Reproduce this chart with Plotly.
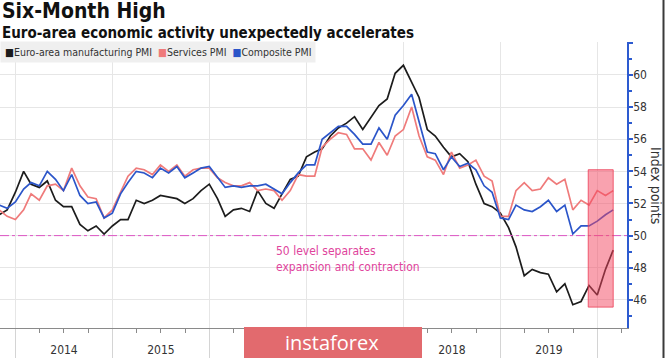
import pandas as pd
import plotly.graph_objects as go

# ---------------- data ----------------
months = pd.date_range("2013-10-31", "2020-02-29", freq="ME")

manufacturing = [
    51.3, 51.6, 52.7,
    54.0, 53.2, 53.0, 53.4, 52.2, 51.8, 51.8, 50.7, 50.3, 50.6, 50.1, 50.6,
    51.0, 51.0, 52.2, 52.0, 52.2, 52.5, 52.4, 52.3, 52.0, 52.3, 52.8, 53.2,
    52.3, 51.2, 51.6, 51.7, 51.5, 52.8, 52.0, 51.7, 52.6, 53.5, 53.7, 54.9,
    55.2, 55.4, 56.2, 56.7, 57.0, 57.4, 56.6, 57.4, 58.1, 58.5, 60.1, 60.6,
    59.6, 58.6, 56.6, 56.2, 55.5, 54.9, 55.1, 54.6, 53.2, 52.0, 51.8, 51.4,
    50.5, 49.3, 47.5, 47.9, 47.7, 47.6, 46.5, 47.0, 45.7, 45.9, 46.9, 46.3,
    47.9, 49.1,
]
services = [
    51.6, 51.2, 51.0,
    51.6, 52.6, 52.2, 53.1, 53.2, 52.8, 54.2, 53.1, 52.4, 52.3, 51.1, 51.6,
    52.7, 53.7, 54.2, 54.1, 53.8, 54.4, 54.0, 54.4, 53.7, 54.1, 54.2, 54.2,
    53.6, 53.3, 53.1, 53.1, 53.3, 52.8, 52.9, 52.8, 52.2, 52.8, 53.8, 53.7,
    53.7, 55.5, 56.0, 56.4, 56.3, 55.4, 55.4, 54.7, 55.8, 55.0, 56.2, 56.6,
    58.0, 56.2, 54.9, 54.7, 53.8, 55.2, 54.2, 54.4, 54.7, 53.7, 53.4, 51.2,
    51.2, 52.8, 53.3, 52.8, 52.9, 53.6, 53.2, 53.5, 51.6, 52.2, 51.9, 52.8,
    52.5, 52.8,
]
composite = [
    51.9, 51.7, 52.1,
    52.9, 53.3, 53.1, 54.0, 53.5, 52.8, 53.8, 52.5, 52.0, 52.1, 51.1, 51.4,
    52.6, 53.3, 54.0, 53.9, 53.6, 54.2, 53.9, 54.3, 53.6, 53.9, 54.2, 54.3,
    53.6, 53.0, 53.1, 53.0, 53.1, 53.1, 53.2, 52.9, 52.6, 53.3, 53.9, 54.4,
    54.4, 56.0, 56.4, 56.8, 56.8, 56.3, 55.7, 55.7, 56.7, 56.0, 57.5, 58.1,
    58.8, 57.1, 55.2, 55.1, 54.1, 54.9, 54.3, 54.5, 54.1, 53.1, 52.7, 51.1,
    51.0, 51.9, 51.6, 51.5, 51.8, 52.2, 51.5, 51.9, 50.1, 50.6, 50.6, 50.9,
    51.3, 51.6,
]

series_names = ["Euro-area manufacturing PMI", "Services PMI", "Composite PMI"]
year_labels = ["2014", "2015", "2016", "2017", "2018", "2019"]
year_label_dates = ["2014-07-02", "2015-07-02", "2016-07-02", "2017-07-02",
                    "2018-07-02", "2019-07-02"]
y_tickvals = [46, 48, 50, 52, 54, 56, 58, 60, 62]
y_ticktext = ["46", "48", "50", "52", "54", "56", "58", "60", ""]
y_minor_vals = [45, 47, 49, 51, 53, 55, 57, 59, 61]
threshold = 50
highlight_x = ["2019-11-27", "2020-02-29"]
highlight_y = [45.55, 54.1]

title_text = "Six-Month High"
subtitle_text = "Euro-area economic activity unexpectedly accelerates"

# ---------------- styles ----------------
FONT = "DejaVu Sans Condensed, DejaVu Sans, sans-serif"
C_MAN = "#1c1c1c"
C_SER = "#ef7b7b"
C_COM = "#2b55c9"
C_AXIS = "#2d5bd0"
C_GRID = "#e6e6e6"
C_PINK = "#e0449c"

fig = go.Figure()
for name, vals, col in zip(series_names, [manufacturing, services, composite],
                           [C_MAN, C_SER, C_COM]):
    fig.add_trace(go.Scatter(x=months, y=vals, mode="lines", name=name,
                             line=dict(color=col, width=1.7), showlegend=False))

# helper trace for the year-label axis
fig.add_trace(go.Scatter(x=year_label_dates, y=[None] * len(year_label_dates),
                         xaxis="x2", mode="lines", showlegend=False,
                         hoverinfo="skip"))

x_range = ["2013-11-03", "2020-04-21"]

fig.update_layout(
    width=665, height=358,
    margin=dict(l=0, r=38, t=42, b=30),
    paper_bgcolor="white", plot_bgcolor="white",
    font=dict(family=FONT, color="#333"),
    showlegend=False,
    xaxis=dict(
        type="date", range=x_range,
        tick0="2014-01-01", dtick="M12",
        showgrid=True, gridcolor=C_GRID, gridwidth=1,
        showline=True, linecolor="#8a8a8a", linewidth=1,
        ticks="outside", ticklen=30, tickcolor="#d4d4d4", tickwidth=1,
        showticklabels=False,
        minor=dict(tick0="2014-01-01", dtick="M3", ticks="outside",
                   ticklen=4, tickcolor="#8a8a8a", showgrid=False),
        zeroline=False,
    ),
    xaxis2=dict(
        type="date", range=x_range, overlaying="x", anchor="y", side="bottom",
        tickmode="array", tickvals=year_label_dates, ticktext=year_labels,
        ticks="", showgrid=False, showline=False, zeroline=False,
        ticklabelstandoff=13,
        tickfont=dict(family=FONT, size=12, color="#333"),
    ),
    yaxis=dict(
        side="right", range=[44.25, 62.05],
        tickmode="array", tickvals=y_tickvals, ticktext=y_ticktext,
        showgrid=True, gridcolor=C_GRID, gridwidth=1,
        showline=True, linecolor=C_AXIS, linewidth=1.5,
        ticks="outside", ticklen=4, tickcolor=C_AXIS, tickwidth=1.5,
        tickfont=dict(family=FONT, size=12, color="#333"),
        ticklabelstandoff=-2,
        minor=dict(tickmode="array", tickvals=y_minor_vals, ticks="outside",
                   ticklen=3, tickcolor=C_AXIS, showgrid=False),
        zeroline=False,
    ),
)

# 50 threshold line
fig.add_hline(y=threshold, line=dict(color="#dd55c4", width=1, dash="dashdot"))

# highlight box
fig.add_shape(type="rect", xref="x", yref="y",
              x0=highlight_x[0], x1=highlight_x[1],
              y0=highlight_y[0], y1=highlight_y[1],
              fillcolor="rgba(244,70,95,0.5)",
              line=dict(color="rgba(236,60,85,0.8)", width=1), layer="above")

# watermark
fig.add_shape(type="rect", xref="paper", yref="paper",
              x0=244 / 627, x1=422 / 627, y0=-0.2, y1=0.0035,
              fillcolor="#e26a6e", line=dict(width=0), layer="above")
fig.add_annotation(text="instaforex", xref="paper", yref="paper",
                   x=332 / 627, y=-0.049, xanchor="center", yanchor="middle",
                   showarrow=False,
                   font=dict(family="Open Sans, sans-serif", size=20, color="white"))

# right border line of the picture
fig.add_shape(type="line", xref="paper", yref="paper",
              x0=663.5 / 627, x1=663.5 / 627, y0=-0.2, y1=1.2,
              line=dict(color="#3a3a3a", width=2), layer="above")

# title + subtitle in one text block
fig.add_annotation(
    text="<b><span style='font-size:21px'>%s</span></b><br><b>%s</b>" % (
        title_text, subtitle_text),
    xref="paper", yref="paper", x=0, y=1.158, xanchor="left", yanchor="top",
    align="left", showarrow=False,
    font=dict(family=FONT, size=15, color="#111"))

# legend (as a text row)
legend_text = ("<span style='color:%s'>■</span>%s  "
               "<span style='color:%s'>■</span>%s  "
               "<span style='color:%s'>■</span>%s") % (
    C_MAN, series_names[0], C_SER, series_names[1], C_COM, series_names[2])
fig.add_annotation(text=legend_text, xref="paper", yref="paper",
                   x=0, y=0.965, xanchor="left", yanchor="middle", showarrow=False,
                   bgcolor="#efefef", borderpad=4,
                   font=dict(family=FONT, size=10.5, color="#333"))

# axis title
fig.add_annotation(text="Index points", xref="paper", yref="paper",
                   x=656 / 627, y=0.5, xanchor="center", yanchor="middle",
                   textangle=90, showarrow=False,
                   font=dict(family=FONT, size=14, color="#333"))

# note
fig.add_annotation(text="50 level separates<br>expansion and contraction",
                   xref="paper", yref="paper", x=274 / 627, y=0.241,
                   xanchor="left", yanchor="middle", align="left", showarrow=False,
                   font=dict(family=FONT, size=12, color=C_PINK))

fig.write_html("out.html",
               config={"displayModeBar": False},
               post_script="document.body.style.margin='0';"
                           "document.body.style.overflow='hidden';")
